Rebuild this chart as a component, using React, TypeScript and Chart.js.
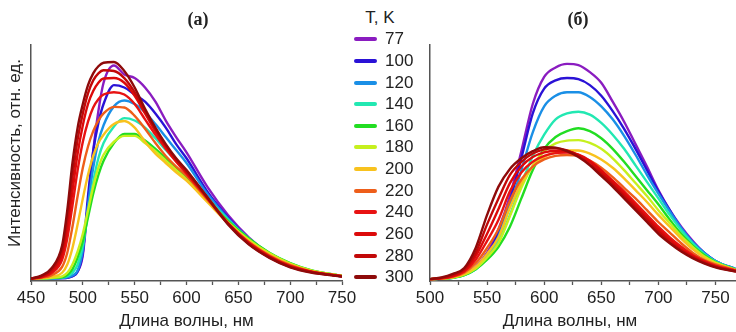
import React, { useEffect, useRef } from "react";
import { Chart, registerables } from "chart.js";

Chart.register(...registerables);

// ---------- data ----------
const temperatures = ["77", "100", "120", "140", "160", "180", "200", "220", "240", "260", "280", "300"];
const seriesColors = [
  "#8A1CC0", "#2A12D6", "#1A8FE6", "#22E8B2", "#22DD22", "#C6F01E",
  "#F8C21E", "#EE5E1A", "#E81212", "#DC0A0A", "#C20808", "#8E0A0A",
];

// panel (а)
const leftWavelengths = [450, 460, 470, 480, 485, 490, 495, 500, 505, 510, 515, 520, 530, 540, 550, 560, 570, 580, 590, 600, 620, 640, 660, 680, 700, 720, 750];
const left77 = [1, 1, 1.1, 1.2, 1.4, 2, 4, 11, 33, 55, 72, 84, 91.3, 87.5, 86, 82, 76, 68, 61, 54.5, 40, 28, 18.5, 11.5, 7, 4.2, 2];
const left100 = [1, 1, 1.1, 1.2, 1.4, 2, 4, 12, 36, 55, 67, 75, 83, 82, 79, 76, 71, 65, 58, 52, 38, 27, 18, 11.5, 7, 4.2, 2];
const left120 = [1, 1, 1.1, 1.3, 1.6, 2.3, 4.5, 13, 32, 48, 59, 66, 74, 76.5, 75, 71.5, 66.5, 61, 55.5, 50, 37, 26.5, 18, 11.5, 7.2, 4.3, 2.1];
const left140 = [1, 1, 1.2, 1.5, 2, 3.5, 7, 15, 29, 42, 52, 58.5, 65.5, 69, 68, 65, 60.5, 55.5, 51, 46.5, 35.5, 26, 18, 11.8, 7.5, 4.5, 2.2];
const left160 = [1, 1.1, 1.3, 1.6, 2.5, 5, 10, 17, 27, 37, 45, 51, 58.5, 62.3, 62.3, 59.5, 56, 52, 48, 44, 34.5, 25.5, 18, 12, 7.6, 4.6, 2.2];
const left180 = [1, 1.1, 1.4, 2, 3.5, 7, 12.5, 20, 30, 40, 48, 53.5, 59, 61.5, 61.5, 58.5, 55, 51, 47, 43, 34, 25, 17.5, 11.7, 7.4, 4.5, 2.2];
const left200 = [1, 1.2, 1.8, 3.5, 7, 14, 24, 35, 45, 53, 58.5, 62, 66.5, 67.8, 65, 59, 54, 50, 46, 42.5, 33.5, 24.5, 17, 11.2, 7, 4.3, 2.1];
const left220 = [1, 1.4, 2.5, 6, 12, 23, 36, 48, 57, 63.5, 68, 71, 73.8, 73.5, 70, 64.5, 58.5, 53, 48.5, 44.5, 34.5, 24.5, 16.5, 10.8, 6.7, 4.1, 2];
const left240 = [1, 1.6, 3.4, 9, 18, 32, 47, 59, 67.5, 73.5, 77, 79, 80, 79, 75, 68.5, 62, 56, 50.5, 45.5, 35, 24.5, 16.3, 10.5, 6.4, 4, 2];
const left260 = [1, 1.8, 4, 11, 22, 38, 54, 66, 75, 80.5, 84, 85.8, 86, 84, 78.5, 71, 63.5, 57, 51, 46, 35.5, 24.5, 16, 10.3, 6.2, 3.9, 2];
const left280 = [1, 2, 4.8, 13, 26, 44, 60, 71, 79.5, 85, 88, 89.3, 89, 86, 80, 72, 64.5, 57.5, 51.5, 46.5, 35.5, 24.3, 15.8, 10, 6, 3.8, 2];
const left300 = [1, 2.3, 5.5, 15, 30, 50, 65, 75, 83, 88, 91, 92.5, 92.8, 89, 82, 73, 65, 58, 52, 47, 35.5, 24, 15.5, 9.8, 5.8, 3.6, 1.9];

// panel (б)
const rightWavelengths = [500, 510, 520, 530, 540, 550, 560, 570, 580, 590, 600, 610, 620, 630, 640, 650, 660, 670, 680, 690, 700, 710, 720, 730, 740, 750, 768];
const right77 = [0.8, 1, 1.5, 2.8, 6, 12, 22, 36, 55, 75, 86.5, 90.5, 92, 91.5, 88.5, 84, 76, 67.5, 58, 48.5, 38.5, 30, 23, 17, 12, 8.5, 5];
const right100 = [0.8, 1, 1.5, 2.7, 5.5, 11, 20.5, 34, 52, 71, 81.5, 85, 86, 85.5, 83, 78.5, 72, 64.5, 56, 47, 38, 30, 22.5, 16.5, 12, 8.5, 5];
const right120 = [0.8, 1, 1.4, 2.6, 5, 10, 19, 32, 47, 63, 74, 78.5, 80, 80, 78, 74, 68.5, 61.5, 53.5, 45, 37, 29.5, 22.5, 16.5, 12, 8.5, 5];
const right140 = [0.8, 1, 1.4, 2.5, 5, 9.5, 17, 28, 41, 53, 62, 68.5, 71, 71.7, 70.5, 67, 62, 56, 49, 42, 35, 28, 21.5, 16, 11.5, 8.3, 5];
const right160 = [0.8, 1, 1.4, 2.5, 5, 9, 14.5, 23, 35, 47, 56, 61, 63.5, 64.7, 63.5, 60.5, 56, 50.5, 44.5, 38.5, 32.5, 26, 20, 15, 11, 8, 4.8];
const right180 = [0.8, 1, 1.5, 2.7, 5.3, 10, 16, 27.5, 39.5, 49, 55, 58.3, 59.5, 59.7, 58.5, 56, 52, 47, 41.5, 36, 30, 24.5, 19, 14.5, 10.5, 7.8, 4.7];
const right200 = [0.8, 1, 1.6, 3, 6, 11.5, 18.5, 31, 41.5, 48.5, 52.5, 54.5, 55.3, 55.3, 54, 51.5, 48, 43.5, 38.5, 33.5, 28, 23, 18, 13.5, 10, 7.5, 4.6];
const right220 = [0.8, 1, 1.8, 3.5, 7.5, 14, 22, 34, 43, 48.5, 51.5, 53, 53.4, 53, 51, 48, 44, 39.5, 35, 30, 25, 20.5, 16, 12, 9, 7, 4.5];
const right240 = [0.8, 1.1, 2, 4, 9, 17, 26, 38, 46, 50.5, 53, 54.2, 54.4, 53.5, 51, 47, 42.5, 38, 33, 28, 23, 18.5, 14.5, 11, 8.5, 6.5, 4.3];
const right260 = [0.8, 1.2, 2.3, 4.5, 10.5, 20, 30.5, 41.5, 48.5, 52.5, 54.5, 55.2, 55, 53.5, 50.5, 46.5, 42, 37, 32, 27, 22, 17.5, 13.5, 10.5, 8, 6.2, 4.2];
const right280 = [0.8, 1.3, 2.6, 5, 12, 24, 35, 45, 50.5, 54, 55.8, 56.2, 55.3, 53, 49.5, 45.5, 41, 36, 31, 26, 21, 16.5, 13, 10, 7.8, 6, 4];
const right300 = [0.8, 1.5, 3, 5.5, 14, 28, 40, 47.5, 52, 55, 56.7, 56.5, 55, 52.5, 49, 44.5, 40, 35, 30, 25, 20, 16, 12.5, 9.7, 7.5, 5.8, 4];

const leftTickLabels = [450, 500, 550, 600, 650, 700, 750];
const rightTickLabels = [500, 550, 600, 650, 700, 750];

const leftSeries = [left77, left100, left120, left140, left160, left180, left200, left220, left240, left260, left280, left300];
const rightSeries = [right77, right100, right120, right140, right160, right180, right200, right220, right240, right260, right280, right300];

// ---------- styles ----------
const SANS = '"Liberation Sans", Arial, Helvetica, sans-serif';
const SERIF = '"Liberation Serif", "Times New Roman", serif';
const TEXT = "#222222";
const AXIS = "#555555";
const FS = 17;

type TextItem = { text: string; x: number; y: number; font: string; rotate?: number };

function overlayPlugin(items: TextItem[]) {
  return {
    id: "textOverlay",
    afterDraw(chart: any) {
      const ctx = chart.ctx as CanvasRenderingContext2D;
      for (const it of items) {
        ctx.save();
        ctx.font = it.font;
        ctx.fillStyle = TEXT;
        ctx.textAlign = "center";
        ctx.textBaseline = "middle";
        ctx.translate(it.x, it.y);
        if (it.rotate) ctx.rotate(it.rotate);
        ctx.fillText(it.text, 0, 0);
        ctx.restore();
      }
    },
  };
}

function buildDatasets(wl: number[], series: number[][]) {
  return series.map((vals, i) => ({
    label: temperatures[i],
    data: vals.map((v, j) => ({ x: wl[j], y: v })),
    borderColor: seriesColors[i],
    backgroundColor: seriesColors[i],
    borderWidth: 2.4,
    pointRadius: 0,
    fill: false,
    cubicInterpolationMode: "monotone" as const,
    order: series.length - 1 - i,
  }));
}

function makeConfig(opts: {
  wl: number[];
  series: number[][];
  min: number;
  max: number;
  labels: number[];
  yWidth: number;
  padRight: number;
  padBottom: number;
  xTitle: boolean;
  overlay: TextItem[];
}) {
  return {
    type: "line" as const,
    data: { datasets: buildDatasets(opts.wl, opts.series) },
    plugins: [overlayPlugin(opts.overlay)],
    options: {
      animation: false as const,
      responsive: false,
      maintainAspectRatio: false,
      devicePixelRatio: 1,
      layout: { padding: { left: 0, right: opts.padRight, top: 45, bottom: opts.padBottom } },
      plugins: { legend: { display: false }, tooltip: { enabled: false }, title: { display: false } },
      elements: { point: { radius: 0 } },
      scales: {
        x: {
          type: "linear" as const,
          position: "bottom" as const,
          min: opts.min,
          max: opts.max,
          ticks: {
            stepSize: 25,
            includeBounds: false,
            autoSkip: false,
            maxRotation: 0,
            padding: 3,
            color: TEXT,
            font: { family: SANS, size: FS },
            callback: (v: any) => (opts.labels.includes(Number(v)) ? String(v) : ""),
          },
          grid: {
            display: true,
            drawOnChartArea: false,
            drawTicks: true,
            tickLength: 4,
            tickColor: AXIS,
            tickWidth: 1.3,
          },
          border: { display: true, color: AXIS, width: 1.5 },
          title: {
            display: opts.xTitle,
            text: "Длина волны, нм",
            color: TEXT,
            font: { family: SANS, size: FS },
            padding: { top: 0.2, bottom: 0 },
          },
        },
        y: {
          type: "linear" as const,
          min: 0,
          max: 100,
          ticks: { display: false },
          grid: { display: false, drawTicks: false },
          border: { display: true, color: AXIS, width: 1.5 },
          afterFit: (scale: any) => {
            scale.width = opts.yWidth;
          },
        },
      },
    },
  };
}

function ChartCanvas(props: { left: number; width: number; config: any }) {
  const ref = useRef<HTMLCanvasElement | null>(null);
  useEffect(() => {
    if (!ref.current) return;
    const chart = new Chart(ref.current, props.config);
    return () => chart.destroy();
  }, []);
  return (
    <canvas
      ref={ref}
      width={props.width}
      height={332}
      style={{ position: "absolute", left: props.left, top: 0, width: props.width, height: 332 }}
    />
  );
}

export default function App() {
  const leftConfig = makeConfig({
    wl: leftWavelengths,
    series: leftSeries,
    min: 450,
    max: 750,
    labels: leftTickLabels,
    yWidth: 31,
    padRight: 18,
    padBottom: 0,
    xTitle: true,
    overlay: [
      { text: "(а)", x: 198, y: 20, font: `bold 18px ${SERIF}` },
      { text: "Интенсивность, отн. ед.", x: 15, y: 153, font: `${FS}px ${SANS}`, rotate: -Math.PI / 2 },
    ],
  });
  const rightConfig = makeConfig({
    wl: rightWavelengths,
    series: rightSeries,
    min: 500,
    max: 768,
    labels: rightTickLabels,
    yWidth: 30,
    padRight: 0,
    padBottom: 20.6,
    xTitle: false,
    overlay: [
      { text: "(б)", x: 178, y: 20, font: `bold 18px ${SERIF}` },
      { text: "Длина волны, нм", x: 170, y: 321.8, font: `${FS}px ${SANS}` },
    ],
  });

  const legendTop = 39.3;
  const legendStep = 21.63;

  return (
    <div style={{ position: "absolute", left: 0, top: 0, width: 736, height: 332, overflow: "hidden", background: "#ffffff" }}>
      <ChartCanvas left={0} width={360} config={leftConfig} />
      <ChartCanvas left={400} width={336} config={rightConfig} />
      <div
        style={{
          position: "absolute",
          left: 360,
          top: 18,
          width: 40,
          transform: "translateY(-50%)",
          textAlign: "center",
          font: `${FS}px ${SANS}`,
          color: TEXT,
          lineHeight: "20px",
          whiteSpace: "nowrap",
        }}
      >
        T, K
      </div>
      {temperatures.map((t, i) => {
        const yc = legendTop + i * legendStep;
        return (
          <React.Fragment key={t}>
            <div
              style={{
                position: "absolute",
                left: 354,
                top: yc - 2,
                width: 23,
                height: 4,
                borderRadius: 2,
                background: seriesColors[i],
              }}
            />
            <div
              style={{
                position: "absolute",
                left: 385,
                top: yc,
                transform: "translateY(-50%)",
                font: `${FS}px ${SANS}`,
                color: TEXT,
                lineHeight: "20px",
                whiteSpace: "nowrap",
              }}
            >
              {t}
            </div>
          </React.Fragment>
        );
      })}
    </div>
  );
}
